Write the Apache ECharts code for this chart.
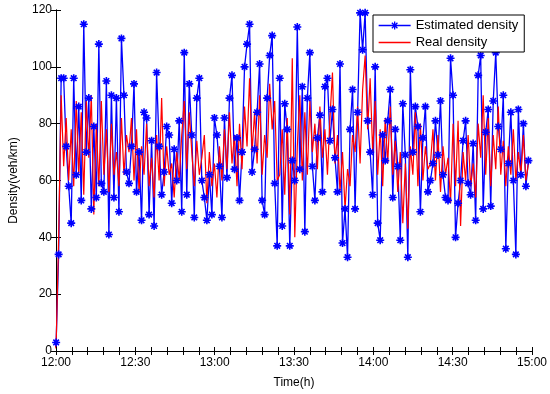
<!DOCTYPE html>
<html>
<head>
<meta charset="utf-8">
<script src="https://cdn.jsdelivr.net/npm/echarts@6/dist/echarts.min.js"></script>
<style>html,body{margin:0;padding:0;background:#fff;}#c{width:550px;height:394px;}</style>
</head>
<body>
<div id="c"></div>
<script>
// sample times: minutes after 12:00
const T_START = -0.9;
const T_STEP = 0.95;
const X_TICK_LABELS = ['12:00', '12:30', '13:00', '13:30', '14:00', '14:30', '15:00'];
const Y_TICKS = [0, 20, 40, 60, 80, 100, 120];

const estimated = [
  1,3,34,96,96,72,58,45,96,62,86,53,115,70,89,50,79,54,108,59,56,95,41,90,54,89,49,110,90,63,
  59,72,94,56,70,46,84,82,48,74,44,98,72,55,63,79,76,52,71,60,81,49,105,55,94,76,47,89,96,60,
  54,46,62,48,82,76,65,47,82,61,89,97,64,75,53,70,100,108,115,63,71,84,101,53,48,89,104,111,59,37,
  96,44,87,78,37,67,60,114,64,93,42,89,105,65,53,75,83,56,93,96,74,85,68,56,101,38,50,33,78,92,
  50,84,119,106,119,81,70,55,100,45,39,76,67,81,92,54,78,65,39,87,69,33,99,70,86,79,49,75,86,56,
  60,66,81,69,88,62,54,53,103,90,40,52,60,74,81,59,55,73,46,97,104,50,77,85,51,88,105,79,71,90,
  36,66,84,60,34,85,62,80,58,67
];
const real = [
  0,2,40,90,65,82,60,78,58,88,62,84,55,88,68,90,48,80,58,88,62,78,56,80,62,70,58,82,62,76,
  70,82,60,78,56,72,62,80,58,68,54,76,60,89,58,72,62,66,54,70,60,76,88,64,84,70,58,74,62,68,
  76,52,70,58,66,54,72,60,78,64,84,66,76,58,80,64,86,72,96,70,84,66,90,62,76,68,94,78,88,60,
  62,78,55,82,48,103,40,72,90,60,84,62,88,70,80,64,86,68,78,62,82,98,66,76,56,70,50,64,58,76,
  70,86,66,92,104,78,96,70,88,62,78,58,82,66,86,62,74,56,70,45,66,43,72,62,84,58,80,60,72,64,
  66,78,60,76,56,72,62,68,52,80,58,81,44,70,60,76,58,66,54,80,68,90,62,82,58,76,64,86,62,74,
  58,72,62,78,60,70,62,76,60,66
];

const pair = arr => arr.map((v, i) => [T_START + T_STEP * i, v]);
const FONT = 'Liberation Sans, Arial, Helvetica, sans-serif';
const star = 'path://M5,0L5,10M0,5L10,5M1.5,1.5L8.5,8.5M1.5,8.5L8.5,1.5';
const legendStar = 'path://M0,5L32,5M16,1L16,9M12,5L20,5M13.2,2.2L18.8,7.8M13.2,7.8L18.8,2.2';
const legendLine = 'path://M0,0L32,0L32,0.01L0,0.01ZM0,4.3L32,4.3L32,5.7L0,5.7ZM0,9.99L32,9.99L32,10L0,10Z';

const chart = echarts.init(document.getElementById('c'), null, {renderer: 'canvas'});
const xCommon = {
  type: 'value', min: 0, max: 180, interval: 6,
  axisLine: {show: true, lineStyle: {color: '#000', width: 1}},
  axisTick: {show: true, inside: true, length: 4, lineStyle: {color: '#000'}},
  splitLine: {show: false}
};
const yCommon = {
  type: 'value', min: Y_TICKS[0], max: Y_TICKS[Y_TICKS.length - 1], interval: 20,
  axisLine: {show: true, lineStyle: {color: '#000', width: 1}},
  axisTick: {show: true, inside: true, length: 5, lineStyle: {color: '#000'}},
  splitLine: {show: false}
};
chart.setOption({
  animation: false,
  backgroundColor: '#fff',
  grid: {left: 48.5, right: 18, top: 10, bottom: 38, containLabel: false},
  legend: {
    left: 373, top: 15, orient: 'vertical',
    data: [
      {name: 'Estimated density', icon: legendStar,
       itemStyle: {color: '#0000ff', borderColor: '#0000ff', borderWidth: 1.3}},
      {name: 'Real density', icon: legendLine,
       itemStyle: {color: '#ff0000', borderColor: 'transparent', borderWidth: 0}}
    ],
    backgroundColor: '#fff', borderColor: '#000', borderWidth: 1, borderRadius: 0,
    padding: [4, 6, 3, 5], itemGap: 4, itemWidth: 32, itemHeight: 10,
    textStyle: {fontFamily: FONT, fontSize: 13, color: '#000'}
  },
  xAxis: [
    Object.assign({}, xCommon, {
      position: 'bottom',
      name: 'Time(h)', nameLocation: 'middle', nameGap: 26,
      nameTextStyle: {fontFamily: FONT, fontSize: 12, color: '#000'},
      axisLabel: {
        show: true, margin: 6, color: '#000', fontFamily: FONT, fontSize: 12,
        formatter: v => (Math.round(v) % 30 === 0 ? X_TICK_LABELS[Math.round(v) / 30] : '')
      }
    }),
    Object.assign({}, xCommon, {position: 'top', axisLabel: {show: false}})
  ],
  yAxis: [
    Object.assign({}, yCommon, {
      position: 'left',
      name: 'Density(veh/km)', nameLocation: 'middle', nameGap: 36, nameRotate: 90,
      nameTextStyle: {fontFamily: FONT, fontSize: 12, color: '#000'},
      axisLabel: {show: true, margin: 4, color: '#000', fontFamily: FONT, fontSize: 12}
    }),
    Object.assign({}, yCommon, {position: 'right', axisLabel: {show: false}})
  ],
  series: [
    {
      name: 'Estimated density', type: 'line', xAxisIndex: 0, yAxisIndex: 0,
      data: pair(estimated), clip: true,
      symbol: star, symbolSize: 8, showAllSymbol: true,
      lineStyle: {color: '#0000ff', width: 1.3},
      itemStyle: {color: '#0000ff', borderColor: '#0000ff', borderWidth: 1.6}
    },
    {
      name: 'Real density', type: 'line', xAxisIndex: 0, yAxisIndex: 0,
      data: pair(real), clip: true,
      symbol: 'none', showSymbol: false,
      lineStyle: {color: '#ff0000', width: 1.2},
      itemStyle: {color: '#ff0000'}
    }
  ]
});
</script>
</body>
</html>
